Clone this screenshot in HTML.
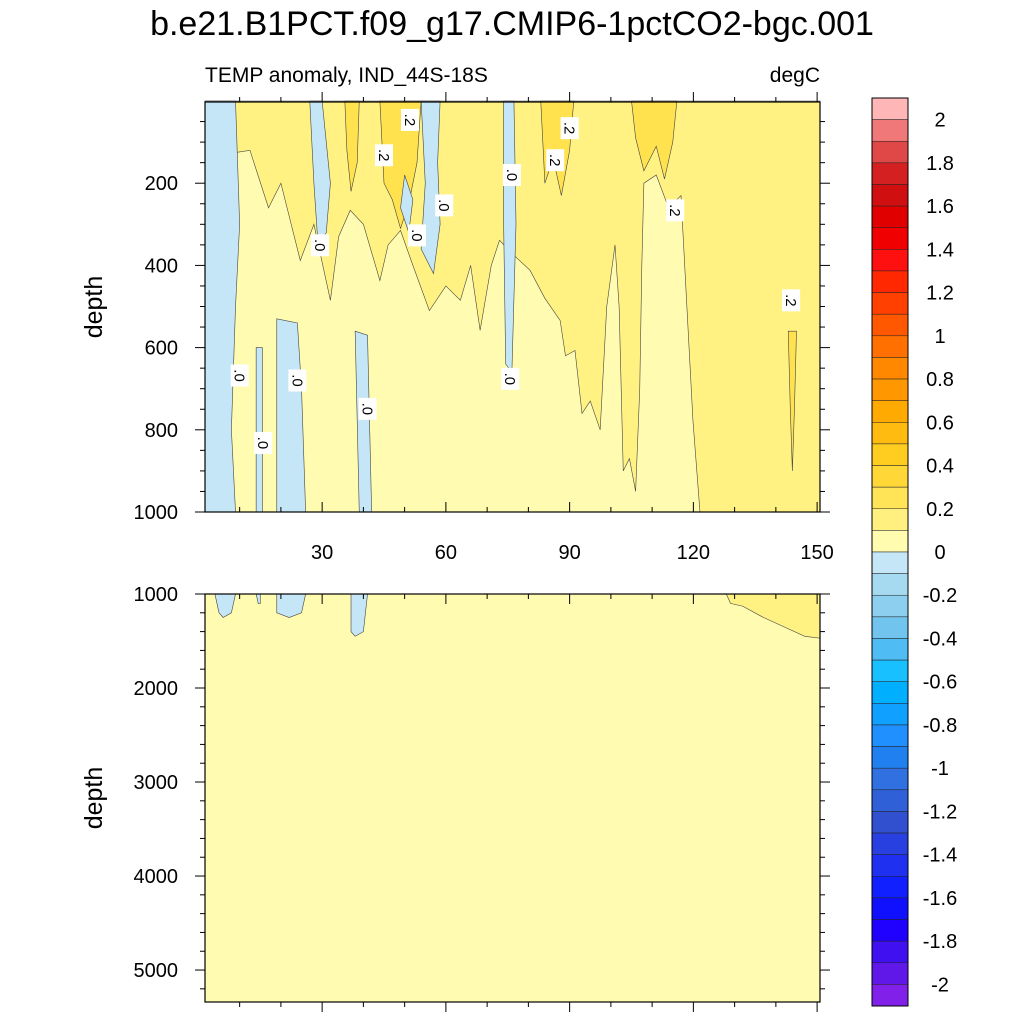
<!DOCTYPE html>
<html><head><meta charset="utf-8"><style>
body{margin:0;background:#fff}
svg{display:block;font-family:"Liberation Sans",sans-serif}
</style></head><body>
<svg id="s" width="1024" height="1024" viewBox="0 0 1024 1024">
<text x="512" y="35" font-size="34" text-anchor="middle">b.e21.B1PCT.f09_g17.CMIP6-1pctCO2-bgc.001</text>
<text x="205" y="82" font-size="21">TEMP anomaly, IND_44S-18S</text>
<text x="820" y="82" font-size="21" text-anchor="end">degC</text>
<text transform="translate(102,307) rotate(-90)" font-size="25" text-anchor="middle">depth</text>
<text transform="translate(102,798) rotate(-90)" font-size="25" text-anchor="middle">depth</text>
<g id="topG"></g>
<g id="botG"></g>
<g id="cbG"></g>
</svg>
<script>
const NS="http://www.w3.org/2000/svg";
const cbLevels=[2,1.8,1.6,1.4,1.2,1,0.8,0.6,0.4,0.2,0,-0.2,-0.4,-0.6,-0.8,-1,-1.2,-1.4,-1.6,-1.8,-2];
const cbLabels=["2","1.8","1.6","1.4","1.2","1","0.8","0.6","0.4","0.2","0","-0.2","-0.4","-0.6","-0.8","-1","-1.2","-1.4","-1.6","-1.8","-2"];
const cbColors=["#ffb6b6","#f07878","#e04848","#d42020","#d01010","#e00000","#f00000","#ff1010","#ff2800","#ff4000","#ff5800","#ff7000","#ff8800","#ff9800","#ffaa00","#ffbb10","#ffcc20","#ffd838","#ffe458","#fff080","#fffcb0","#c4e6f6","#a6daf0","#8ccfee","#70c4ee","#50bcf4","#18c0ff","#00b0ff","#10a0ff","#2090ff","#2080f0","#3070e0","#3060d8","#3050d0","#2840e0","#2030f0","#1020ff","#1010ff","#2000ff","#4010f0","#6018e8","#8020e8"];
const C0="#fffbb0",C1="#fff282",C2="#ffe24e",CB="#c4e6f6";
const xTicks=[30,60,90,120,150];
const yTicksTop=[200,400,600,800,1000];
const yTicksBot=[1000,2000,3000,4000,5000];
const topWarm1=[[1.6,0],[1.6,95],[6,130],[12.5,120],[17,260],[20,200],[24.7,388],[28,300],[32,485],[34,330],[36.8,266],[40,300],[44,437],[46,350],[49,315],[52,400],[56,510],[60,450],[63.5,485],[66,400],[68.3,558],[71,400],[73,339],[77,380],[80.4,412],[84,480],[87.7,534],[89,620],[91.3,607],[93,760],[95,730],[97.4,800],[99,500],[101,350],[102,500],[103,900],[104.5,870],[106,950],[107,700],[107.5,400],[108,200],[111,180],[114,260],[117,230],[118,420],[119.9,778],[121.6,1000],[150.7,1000],[150.7,0]];
const topCores=[
 [[44,0],[54,0],[53,150],[51,250],[49,310],[47,240],[45,200]],
 [[83,0],[91,0],[90,120],[88,230],[86,140],[84,200]],
 [[105,0],[116,0],[115,100],[113,190],[111,110],[108,170],[106,90]],
 [[35.5,0],[39,0],[38.5,150],[37,220],[36,120]],
 [[143,560],[145,560],[144.5,750],[144,900],[143.5,750]]
];
const topBlue=[
 [[1.6,0],[9,0],[10,300],[9,500],[8,800],[9,1000],[1.6,1000]],
 [[14,600],[15.5,600],[15.5,1000],[14,1000]],
 [[19,530],[24,540],[25,700],[26,1000],[19,1000]],
 [[38,560],[41,570],[42,1000],[39,1000]],
 [[27,0],[30,0],[32,200],[31,320],[29,350],[28,200]],
 [[54,0],[58.6,0],[58,150],[58.6,300],[57,420],[54,360],[55,200]],
 [[74,0],[76.5,0],[77,300],[76,660],[74.5,640],[74,300]],
 [[50,180],[52,240],[51,320],[49,260]]
];
const botBlue=[[[4,1000],[9,1000],[8,1200],[6,1250],[5,1200]],[[14,1000],[15,1000],[15,1100],[14.5,1100]],[[19,1000],[26,1000],[25,1200],[22,1250],[19,1200]],[[37,1000],[41,1000],[40,1400],[38,1450],[37,1400]]];
const botWarm=[[[128,1000],[150.7,1000],[150.7,1470],[147,1450],[142,1350],[137,1250],[132,1130],[129,1100]]];
const topLabels=[[10,668,".0"],[24,680,".0"],[15.7,832,".0"],[41,749,".0"],[29.5,351,".0"],[53,327,".0"],[59.6,254,".0"],[75.6,676,".0"],[76,180,".0"],[51.3,46,".2"],[45,132,".2"],[86.5,144,".2"],[90,66,".2"],[115.6,266,".2"],[143.7,485,".2"]];

function el(t,a,p,name){const e=document.createElementNS(NS,t);for(const k in a)e.setAttribute(k,a[k]);


p.appendChild(e);return e;}
const X0=1.6,X1=150.7,PX0=205,PX1=820;
function xs(v){return PX0+(v-X0)/(X1-X0)*(PX1-PX0);}
function ysT(d){return 102+(d-2.4)/(1000-2.4)*410;}
function ysB(d){return 594+(d-1000)/(5340-1000)*408;}
function poly(g,pts,ys,fill,name){return el('polygon',{points:pts.map(p=>xs(p[0])+','+ys(p[1])).join(' '),fill:fill,stroke:'#444','stroke-width':0.6},g,name);}
const gTop=document.getElementById('topG'),gBot=document.getElementById('botG'),gCb=document.getElementById('cbG');
el('rect',{x:205,y:102,width:615,height:410,fill:C0},gTop,'top-plot-bg');
poly(gTop,topWarm1,ysT,C1,'warm-region');
topCores.forEach(c=>poly(gTop,c,ysT,C2,'warm-core'));
topBlue.forEach(b=>poly(gTop,b,ysT,CB,'cool-region'));
topLabels.forEach(l=>{const x=xs(l[0]),y=ysT(l[1]);
 el('rect',{x:x-9,y:y-11,width:18,height:22,fill:'#fff'},gTop,'contour-label-bg');
 const t=el('text',{x:x,y:y+5,'font-size':15,'text-anchor':'middle',transform:`rotate(90 ${x} ${y})`},gTop,'contour-label');t.textContent=l[2];});
el('rect',{x:205,y:102,width:615,height:410,fill:'none',stroke:'#000','stroke-width':1.2},gTop,'top-plot-frame');
el('rect',{x:205,y:594,width:615,height:408,fill:C0},gBot,'bottom-plot-bg');
botBlue.forEach(b=>poly(gBot,b,ysB,CB,'cool-region'));
botWarm.forEach(b=>poly(gBot,b,ysB,C1,'warm-region'));
el('rect',{x:205,y:594,width:615,height:408,fill:'none',stroke:'#000','stroke-width':1.2},gBot,'bottom-plot-frame');
for(let v=10;v<=150;v+=10){const x=xs(v),L=v%30==0?10:5;
 el('line',{x1:x,x2:x,y1:512,y2:512-L,stroke:'#000'},gTop,'x-tick');
 el('line',{x1:x,x2:x,y1:102,y2:102-L,stroke:'#000'},gTop,'x-tick');
 el('line',{x1:x,x2:x,y1:1002,y2:1002+L,stroke:'#000'},gBot,'x-tick');
 el('line',{x1:x,x2:x,y1:594,y2:594+L,stroke:'#000'},gBot,'x-tick');}
xTicks.forEach(v=>{const t=el('text',{x:xs(v),y:559,'font-size':20,'text-anchor':'middle'},gTop,'x-tick-label');t.textContent=v;});
for(let d=50;d<=1000;d+=50){const y=ysT(d),L=d%200==0?10:5;
 el('line',{x1:205,x2:205-L,y1:y,y2:y,stroke:'#000'},gTop,'y-tick');
 el('line',{x1:820,x2:820+L,y1:y,y2:y,stroke:'#000'},gTop,'y-tick');}
yTicksTop.forEach(d=>{const t=el('text',{x:178,y:ysT(d)+7,'font-size':20,'text-anchor':'end'},gTop,'y-tick-label');t.textContent=d;});
for(let d=1000;d<=5300;d+=200){const y=ysB(d),L=d%1000==0?10:5;
 el('line',{x1:205,x2:205-L,y1:y,y2:y,stroke:'#000'},gBot,'y-tick');
 el('line',{x1:820,x2:820+L,y1:y,y2:y,stroke:'#000'},gBot,'y-tick');}
yTicksBot.forEach(d=>{const t=el('text',{x:178,y:ysB(d)+7,'font-size':20,'text-anchor':'end'},gBot,'y-tick-label');t.textContent=d;});
const h=908/cbColors.length;
cbColors.forEach((c,i)=>el('rect',{x:872,y:98+i*h,width:36,height:h,fill:c,stroke:'#222','stroke-width':0.5},gCb,'colorbar-box'));
el('rect',{x:872,y:98,width:36,height:908,fill:'none',stroke:'#000','stroke-width':1},gCb,'colorbar-frame');
cbLevels.forEach((v,i)=>{const y=98+(2-v)/0.1*h+h;const t=el('text',{x:940,y:y+7,'font-size':20,'text-anchor':'middle'},gCb,'colorbar-label');t.textContent=cbLabels[i];});
</script>
</body></html>
